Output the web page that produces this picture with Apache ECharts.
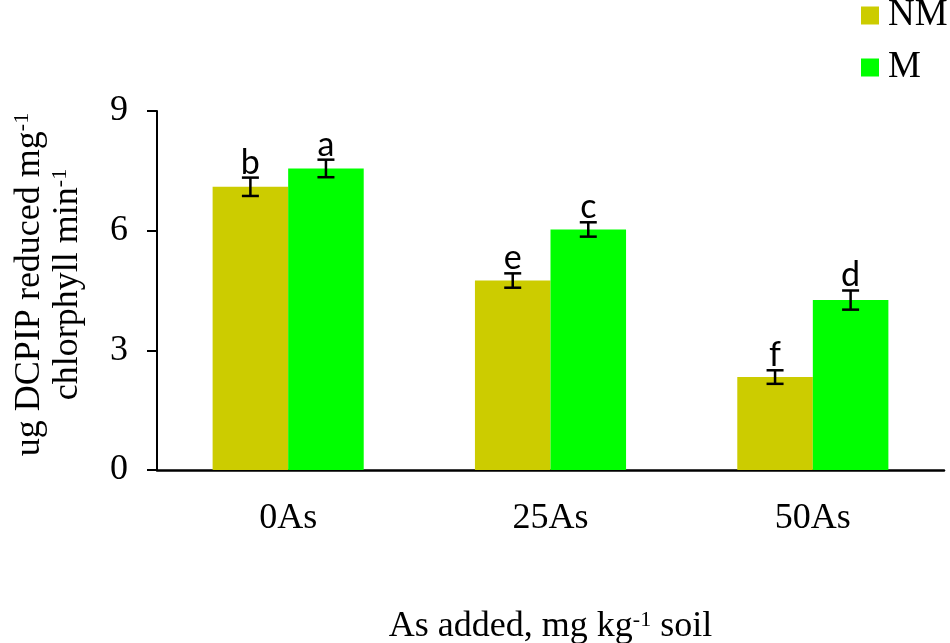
<!DOCTYPE html>
<html>
  <head>
    <meta charset="utf-8" />
    <title>DCPIP</title>
    <style type="text/css">
      html,
      body {
        margin: 0;
        padding: 0;
        background: #fff;
      }
    </style>
    <script src="https://cdn.jsdelivr.net/npm/echarts@6/dist/echarts.min.js"></script>
  </head>
  <body>
    <div id="chart" style="width: 950px; height: 643px"></div>
    <script type="text/javascript">
      var categories = ["0As", "25As", "50As"];
      var nmValues = [7.1, 4.75, 2.33];
      var mValues = [7.56, 6.03, 4.26];
      var nmErr = [0.23, 0.18, 0.17];
      var mErr = [0.22, 0.18, 0.24];
      var nmLetters = ["b", "e", "f"];
      var mLetters = ["a", "c", "d"];
      var yTicks = [0, 3, 6, 9];

      var SERIF = "Liberation Serif";
      var GAP = 0.424;

      var chart = echarts.init(document.getElementById("chart"));

      // error bar + letter, shifted onto its bar inside the group
      function errorItem(sign, errs, letters) {
        return function (params, api) {
          var x = api.value(0);
          var y = api.value(1);
          var e = errs[params.dataIndex];
          var catW = api.size([1, 0])[0];
          var barW = (catW * (1 - GAP)) / 2;
          var cx = api.coord([x, y])[0] + (sign * barW) / 2;
          var hi = api.coord([x, y + e])[1];
          var lo = api.coord([x, y - e])[1];
          var cap = 8.5;
          var ls = { stroke: "#000", lineWidth: 2.5 };
          return {
            type: "group",
            children: [
              { type: "line", shape: { x1: cx, y1: hi, x2: cx, y2: lo }, style: ls },
              { type: "line", shape: { x1: cx - cap, y1: hi, x2: cx + cap, y2: hi }, style: ls },
              { type: "line", shape: { x1: cx - cap, y1: lo, x2: cx + cap, y2: lo }, style: ls },
              {
                type: "text",
                style: {
                  text: letters[params.dataIndex],
                  x: cx,
                  y: hi + 2,
                  align: "center",
                  verticalAlign: "bottom",
                  font: "34px Lato",
                  fill: "#000",
                },
              },
            ],
          };
        };
      }

      var option = {
        animation: false,
        legend: {
          data: ["NM", "M"],
          orient: "vertical",
          left: 861,
          top: -3,
          padding: 0,
          itemWidth: 18,
          itemHeight: 18,
          itemGap: 15,
          icon: "rect",
          textStyle: { fontFamily: SERIF, fontSize: 37, color: "#000", lineHeight: 36, padding: [0, 0, 0, 4] },
        },
        grid: {
          left: 157,
          right: 6,
          top: 111,
          bottom: 173,
          containLabel: false,
          outerBoundsMode: "none",
        },
        xAxis: {
          type: "category",
          data: categories,
          axisLine: { lineStyle: { color: "#000", width: 2.5 } },
          axisTick: { show: false },
          axisLabel: { fontFamily: SERIF, fontSize: 36, color: "#000", margin: 31 },
          name: "{t|As added, mg kg}{s|-1}{t| soil}",
          nameLocation: "middle",
          nameGap: 139,
          nameTextStyle: {
            rich: {
              t: { fontFamily: SERIF, fontSize: 36, color: "#000", lineHeight: 36 },
              s: { fontFamily: SERIF, fontSize: 22, color: "#000", verticalAlign: "top", lineHeight: 22 },
            },
          },
        },
        yAxis: {
          type: "value",
          min: yTicks[0],
          max: yTicks[yTicks.length - 1],
          interval: 3,
          splitLine: { show: false },
          axisLine: { show: true, lineStyle: { color: "#000", width: 2 } },
          axisTick: { show: true, length: 10, lineStyle: { color: "#000", width: 2 } },
          axisLabel: { fontFamily: SERIF, fontSize: 36, color: "#000", margin: 29 },
          name: "{t|ug DCPIP reduced mg}{s|-1}\n{t|chlorphyll min}{s|-1}",
          nameLocation: "middle",
          nameGap: 70,
          nameTextStyle: {
            align: "center",
            padding: [0, 0, 0, 12],
            rich: {
              t: { fontFamily: SERIF, fontSize: 36, color: "#000", lineHeight: 38 },
              s: { fontFamily: SERIF, fontSize: 22, color: "#000", verticalAlign: "top", lineHeight: 22 },
            },
          },
        },
        series: [
          {
            name: "NM",
            type: "bar",
            data: nmValues,
            barGap: "0%",
            barCategoryGap: GAP * 100 + "%",
            itemStyle: { color: "#cccc00" },
          },
          {
            name: "M",
            type: "bar",
            data: mValues,
            itemStyle: { color: "#00ff00" },
          },
          {
            type: "custom",
            renderItem: errorItem(-1, nmErr, nmLetters),
            data: nmValues.map(function (v, i) { return [i, v]; }),
            z: 5,
          },
          {
            type: "custom",
            renderItem: errorItem(1, mErr, mLetters),
            data: mValues.map(function (v, i) { return [i, v]; }),
            z: 5,
          },
        ],
      };
      chart.setOption(option);
    </script>
  </body>
</html>
